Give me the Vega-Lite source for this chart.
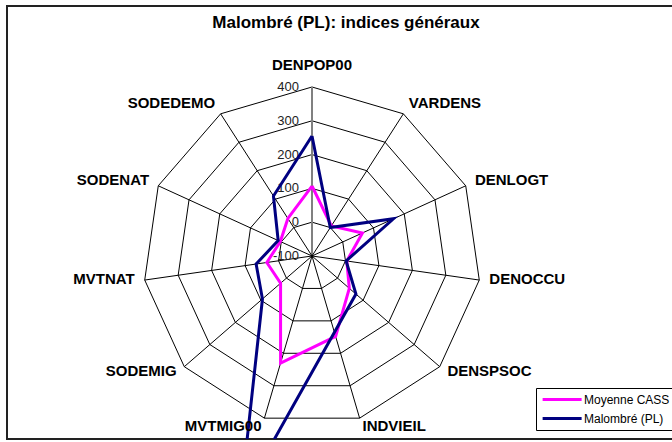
{
  "$schema": "https://vega.github.io/schema/vega-lite/v6.json",
  "width": 670,
  "height": 433,
  "autosize": {"type": "none"},
  "padding": {"left": 7, "top": 6, "right": 0, "bottom": 3},
  "background": "white",
  "config": {"view": {"stroke": "#222222", "strokeWidth": 2}, "font": "Liberation Sans"},
  "title": {"text": "Malombré (PL): indices généraux", "anchor": "middle", "frame": "group", "orient": "top", "offset": -16, "dy": 18, "baseline": "middle", "dx": 4, "fontSize": 17, "fontWeight": "bold", "font": "Liberation Sans", "color": "black"},
  "datasets": {
    "axes": [
      {"name": "DENPOP00", "idx": 0},
      {"name": "VARDENS", "idx": 1},
      {"name": "DENLOGT", "idx": 2},
      {"name": "DENOCCU", "idx": 3},
      {"name": "DENSPSOC", "idx": 4},
      {"name": "INDVIEIL", "idx": 5},
      {"name": "MVTMIG00", "idx": 6},
      {"name": "SODEMIG", "idx": 7},
      {"name": "MVTNAT", "idx": 8},
      {"name": "SODENAT", "idx": 9},
      {"name": "SODEDEMO", "idx": 10}
    ],
    "rings": [
      {"level": 0, "pts": [0,1,2,3,4,5,6,7,8,9,10,11]},
      {"level": 100, "pts": [0,1,2,3,4,5,6,7,8,9,10,11]},
      {"level": 200, "pts": [0,1,2,3,4,5,6,7,8,9,10,11]},
      {"level": 300, "pts": [0,1,2,3,4,5,6,7,8,9,10,11]},
      {"level": 400, "pts": [0,1,2,3,4,5,6,7,8,9,10,11]}
    ],
    "ringvalues": [{"v": -100, "lab": "-100"}, {"v": 0, "lab": "0"}, {"v": 100, "lab": "100"}, {"v": 200, "lab": "200"}, {"v": 300, "lab": "300"}, {"v": 400, "lab": "400"}],
    "series": [
      {"serie": "Moyenne CASS", "axis": "DENPOP00", "idx": 0, "value": 107},
      {"serie": "Moyenne CASS", "axis": "VARDENS", "idx": 1, "value": 6},
      {"serie": "Moyenne CASS", "axis": "DENLOGT", "idx": 2, "value": 64},
      {"serie": "Moyenne CASS", "axis": "DENOCCU", "idx": 3, "value": 4},
      {"serie": "Moyenne CASS", "axis": "DENSPSOC", "idx": 4, "value": 46},
      {"serie": "Moyenne CASS", "axis": "INDVIEIL", "idx": 5, "value": 148},
      {"serie": "Moyenne CASS", "axis": "MVTMIG00", "idx": 6, "value": 230},
      {"serie": "Moyenne CASS", "axis": "SODEMIG", "idx": 7, "value": 23},
      {"serie": "Moyenne CASS", "axis": "MVTNAT", "idx": 8, "value": 35},
      {"serie": "Moyenne CASS", "axis": "SODENAT", "idx": 9, "value": 3},
      {"serie": "Moyenne CASS", "axis": "SODEDEMO", "idx": 10, "value": 32},
      {"serie": "Moyenne CASS", "axis": "DENPOP00", "idx": 11, "value": 107},
      {"serie": "Malombré (PL)", "axis": "DENPOP00", "idx": 0, "value": 255},
      {"serie": "Malombré (PL)", "axis": "VARDENS", "idx": 1, "value": 0},
      {"serie": "Malombré (PL)", "axis": "DENLOGT", "idx": 2, "value": 165},
      {"serie": "Malombré (PL)", "axis": "DENOCCU", "idx": 3, "value": 2},
      {"serie": "Malombré (PL)", "axis": "DENSPSOC", "idx": 4, "value": 72},
      {"serie": "Malombré (PL)", "axis": "MVTMIG00", "idx": 6, "value": 650},
      {"serie": "Malombré (PL)", "axis": "SODEMIG", "idx": 7, "value": 94},
      {"serie": "Malombré (PL)", "axis": "MVTNAT", "idx": 8, "value": 67},
      {"serie": "Malombré (PL)", "axis": "SODENAT", "idx": 9, "value": 10},
      {"serie": "Malombré (PL)", "axis": "SODEDEMO", "idx": 10, "value": 111},
      {"serie": "Malombré (PL)", "axis": "DENPOP00", "idx": 11, "value": 255}
    ]
  },
  "encoding": {
    "x": {"field": "x", "type": "quantitative", "scale": {"domain": [-902.4, 1079.9], "nice": false, "zero": false}, "axis": null},
    "y": {"field": "y", "type": "quantitative", "scale": {"domain": [-541.4, 739.6], "nice": false, "zero": false}, "axis": null}
  },
  "layer": [
    {
      "data": {"name": "rings"},
      "transform": [
        {"flatten": ["pts"]},
        {"calculate": "datum.pts*2*PI/11", "as": "angle"},
        {"calculate": "(datum.level+100)*sin(datum.angle)", "as": "x"},
        {"calculate": "(datum.level+100)*cos(datum.angle)", "as": "y"}
      ],
      "mark": {"type": "line", "color": "black", "strokeWidth": 1},
      "encoding": {"detail": {"field": "level"}, "order": {"field": "pts", "type": "quantitative"}}
    },
    {
      "data": {"name": "axes"},
      "transform": [
        {"calculate": "datum.idx*2*PI/11", "as": "angle"},
        {"calculate": "500*sin(datum.angle)", "as": "x"},
        {"calculate": "500*cos(datum.angle)", "as": "y"}
      ],
      "mark": {"type": "rule"},
      "encoding": {
        "x": {"datum": 0, "type": "quantitative"},
        "y": {"datum": 0, "type": "quantitative"},
        "x2": {"field": "x"},
        "y2": {"field": "y"},
        "stroke": {"condition": {"test": "datum.idx==0", "value": "#808080"}, "value": "black"},
        "strokeWidth": {"condition": {"test": "datum.idx==0", "value": 2}, "value": 1}
      }
    },
    {
      "data": {"values": [{}]},
      "mark": {"type": "point", "filled": true, "color": "black", "size": 25, "opacity": 1},
      "encoding": {"x": {"datum": 0, "type": "quantitative"}, "y": {"datum": 0, "type": "quantitative"}}
    },
    {
      "data": {"name": "ringvalues"},
      "transform": [{"calculate": "datum.v+100", "as": "y"}, {"calculate": "0", "as": "x"}],
      "mark": {"type": "text", "align": "right", "baseline": "middle", "dx": -13, "fontSize": 13, "color": "#222222", "font": "Liberation Sans"},
      "encoding": {"text": {"field": "lab", "type": "nominal"}}
    },
    {
      "data": {"name": "series"},
      "transform": [
        {"calculate": "datum.idx*2*PI/11", "as": "angle"},
        {"calculate": "(datum.value+100)*sin(datum.angle)", "as": "x"},
        {"calculate": "(datum.value+100)*cos(datum.angle)", "as": "y"}
      ],
      "mark": {"type": "line", "strokeWidth": 3, "clip": true, "strokeJoin": "miter"},
      "encoding": {
        "order": {"field": "idx", "type": "quantitative"},
        "color": {
          "field": "serie", "type": "nominal",
          "scale": {"domain": ["Moyenne CASS", "Malombré (PL)"], "range": ["#FF00FF", "#000080"]},
          "legend": {"orient": "none", "legendX": 529, "legendY": 382, "title": null, "strokeColor": "black", "fillColor": "white", "padding": 5, "symbolType": "M-1,0H7", "symbolSize": 95, "symbolStrokeWidth": 3, "labelFontSize": 12, "labelFont": "Liberation Sans", "labelColor": "black", "labelOffset": 30, "rowPadding": 6, "cornerRadius": 0}
        }
      }
    },
    {
      "data": {"name": "axes"},
      "transform": [
        {"filter": "datum.idx==0"},
        {"calculate": "datum.idx*2*PI/11", "as": "angle"},
        {"calculate": "530*sin(datum.angle)", "as": "x"},
        {"calculate": "530*cos(datum.angle)", "as": "y"}
      ],
      "mark": {"type": "text", "align": "center", "baseline": "middle", "dy": -12, "fontSize": 15, "fontWeight": "bold", "color": "black", "font": "Liberation Sans"},
      "encoding": {"text": {"field": "name"}}
    },
    {
      "data": {"name": "axes"},
      "transform": [
        {"filter": "datum.idx>=1 && datum.idx<=5"},
        {"calculate": "datum.idx*2*PI/11", "as": "angle"},
        {"calculate": "530*sin(datum.angle)", "as": "x"},
        {"calculate": "530*cos(datum.angle)", "as": "y"}
      ],
      "mark": {"type": "text", "align": "left", "baseline": "middle", "dy": -2, "fontSize": 15, "fontWeight": "bold", "color": "black", "font": "Liberation Sans"},
      "encoding": {"text": {"field": "name"}}
    },
    {
      "data": {"name": "axes"},
      "transform": [
        {"filter": "datum.idx>=6"},
        {"calculate": "datum.idx*2*PI/11", "as": "angle"},
        {"calculate": "530*sin(datum.angle)", "as": "x"},
        {"calculate": "530*cos(datum.angle)", "as": "y"}
      ],
      "mark": {"type": "text", "align": "right", "baseline": "middle", "dy": -2, "fontSize": 15, "fontWeight": "bold", "color": "black", "font": "Liberation Sans"},
      "encoding": {"text": {"field": "name"}}
    }
  ]
}
